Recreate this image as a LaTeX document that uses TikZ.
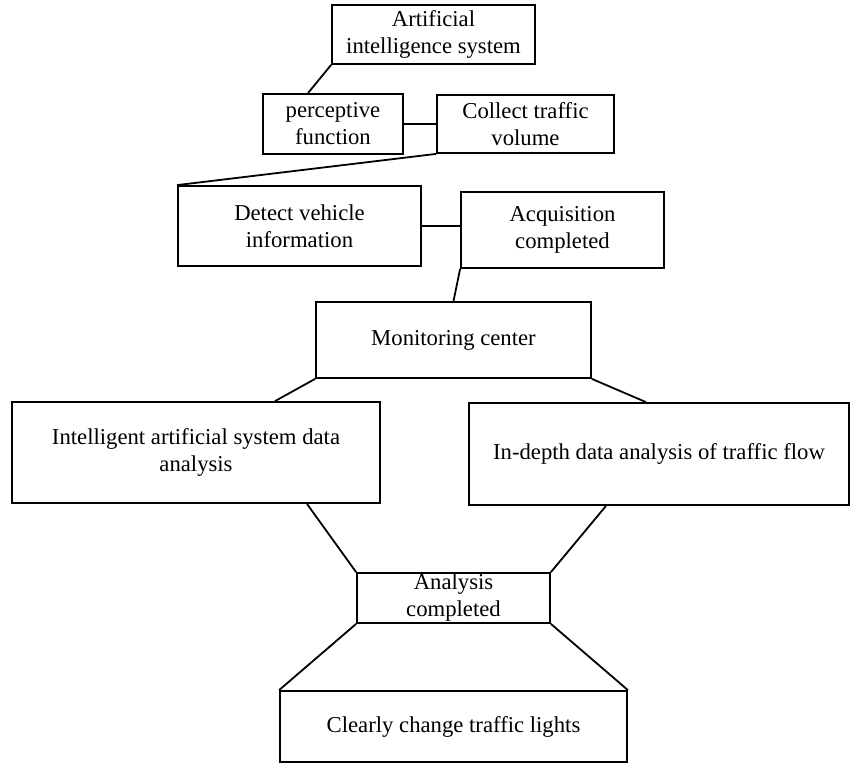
\documentclass[tikz,border=0pt]{standalone}
\usepackage{fontspec}
\setmainfont{Liberation Serif}
\usepackage{tikz}

\begin{document}
\begin{tikzpicture}
            [x=1pt,y=-1pt,line width=1.8pt,
             box/.style={draw,inner sep=0pt,align=center,font=\fontsize{22.7}{27}\selectfont}]
            \useasboundingbox (0, 0) rectangle (850, 764);
            \node [box, minimum width=203, minimum height=59] (ais) at (433.5, 34.5) {Artificial\\intelligence system};
            \node [box, minimum width=140, minimum height=60] (perc) at (333, 124) {perceptive\\function};
            \node [box, minimum width=177, minimum height=58] (collect) at (525.5, 124) {Collect traffic\\volume};
            \node [box, minimum width=243, minimum height=80] (detect) at (299.5, 226) {Detect vehicle\\information};
            \node [box, minimum width=203, minimum height=76] (acq) at (562.5, 230) {Acquisition\\completed};
            \node [box, minimum width=275, minimum height=76] (monitor) at (453.5, 340) {Monitoring center};
            \node [box, minimum width=368, minimum height=101] (intel) at (196, 452.5) {Intelligent artificial system data\\analysis};
            \node [box, minimum width=380, minimum height=102] (indepth) at (659, 454) {In-depth data analysis of traffic flow};
            \node [box, minimum width=193, minimum height=50] (done) at (453.5, 598) {Analysis\\completed};
            \node [box, minimum width=347, minimum height=71] (lights) at (453.5, 726.5) {Clearly change traffic lights};
            \draw (ais.south west) -- ([xshift=-25]perc.north);
            \draw (perc.east) -- (collect.west);
            \draw (collect.south west) -- (detect.north west);
            \draw (detect.east) -- (detect.east -| acq.west);
            \draw (acq.south west) -- (monitor.north);
            \draw (monitor.south west) -- ([xshift=79]intel.north);
            \draw (monitor.south east) -- ([xshift=-13]indepth.north);
            \draw ([xshift=111]intel.south) -- (done.north west);
            \draw ([xshift=-53]indepth.south) -- (done.north east);
            \draw (done.south west) -- (lights.north west);
            \draw (done.south east) -- (lights.north east);
        \end{tikzpicture}
\end{document}
